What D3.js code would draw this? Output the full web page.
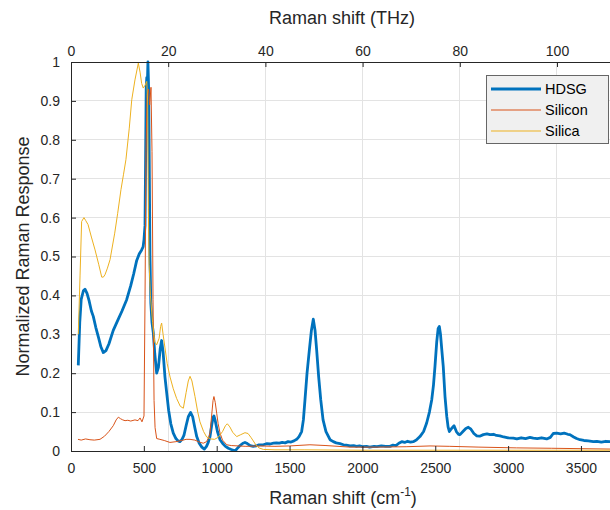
<!DOCTYPE html>
<html><head><meta charset="utf-8">
<script src="https://cdn.jsdelivr.net/npm/d3@7"></script>
<style>body{margin:0;background:#fff;overflow:hidden}svg{display:block;font-family:"Liberation Sans",Arial,sans-serif}</style>
</head><body>
<script>
// ---- data (Raman shift in cm^-1, normalized response) ----
const seriesNames = ["HDSG", "Silicon", "Silica"];
const hdsgPoints = [[50,0.22],[60,0.33],[70,0.39],[85,0.412],[96,0.416],[110,0.405],[125,0.385],[140,0.36],[153,0.346],[170,0.318],[190,0.29],[205,0.268],[222,0.253],[240,0.258],[260,0.275],[290,0.31],[320,0.335],[350,0.36],[382,0.389],[410,0.425],[430,0.455],[451,0.49],[470,0.508],[485,0.517],[495,0.525],[501,0.543],[508,0.58],[512,0.75],[516,0.93],[520,0.96],[524,0.94],[528,1.0],[533,0.93],[537,0.75],[542,0.5],[548,0.38],[556,0.33],[565,0.303],[575,0.25],[588,0.2],[600,0.215],[612,0.262],[622,0.284],[632,0.255],[645,0.19],[657,0.149],[670,0.105],[685,0.07],[702,0.046],[720,0.032],[735,0.026],[748,0.024],[762,0.03],[775,0.04],[790,0.065],[805,0.088],[821,0.099],[835,0.088],[850,0.06],[863,0.037],[880,0.02],[898,0.01],[915,0.005],[930,0.012],[942,0.022],[954,0.037],[965,0.065],[975,0.086],[981,0.09],[990,0.078],[1005,0.05],[1023,0.029],[1040,0.02],[1060,0.012],[1080,0.007],[1100,0.004],[1115,0.002],[1126,0.0],[1140,0.006],[1160,0.014],[1180,0.02],[1194,0.022],[1210,0.019],[1230,0.014],[1251,0.012],[1270,0.013],[1290,0.016],[1320,0.016],[1345,0.019],[1366,0.018],[1390,0.02],[1410,0.021],[1430,0.02],[1450,0.022],[1470,0.021],[1490,0.024],[1510,0.023],[1530,0.026],[1549,0.03],[1565,0.037],[1583,0.05],[1595,0.08],[1606,0.132],[1620,0.2],[1636,0.26],[1650,0.31],[1663,0.339],[1675,0.31],[1686,0.26],[1700,0.19],[1714,0.132],[1730,0.08],[1750,0.05],[1778,0.029],[1800,0.024],[1820,0.021],[1846,0.019],[1870,0.016],[1890,0.015],[1915,0.013],[1940,0.014],[1960,0.012],[1980,0.013],[2000,0.011],[2029,0.012],[2050,0.01],[2080,0.012],[2100,0.011],[2130,0.013],[2160,0.012],[2189,0.012],[2210,0.015],[2230,0.014],[2250,0.02],[2270,0.024],[2290,0.022],[2310,0.025],[2330,0.023],[2349,0.024],[2370,0.028],[2395,0.037],[2420,0.05],[2441,0.072],[2460,0.1],[2476,0.132],[2488,0.17],[2498,0.217],[2510,0.28],[2520,0.315],[2528,0.32],[2536,0.3],[2545,0.26],[2555,0.217],[2567,0.14],[2579,0.089],[2588,0.062],[2597,0.05],[2612,0.058],[2629,0.065],[2645,0.05],[2660,0.043],[2670,0.042],[2690,0.05],[2710,0.058],[2727,0.061],[2745,0.056],[2765,0.045],[2785,0.039],[2805,0.038],[2830,0.042],[2855,0.044],[2876,0.042],[2900,0.043],[2920,0.04],[2944,0.039],[2970,0.036],[3000,0.034],[3036,0.033],[3060,0.031],[3090,0.034],[3120,0.032],[3150,0.035],[3173,0.033],[3200,0.032],[3230,0.034],[3265,0.031],[3290,0.035],[3310,0.045],[3334,0.046],[3360,0.044],[3385,0.046],[3410,0.043],[3424,0.042],[3450,0.036],[3470,0.032],[3493,0.029],[3520,0.027],[3550,0.026],[3585,0.024],[3610,0.025],[3640,0.023],[3670,0.025],[3699,0.024],[3760,0.024]];
const siliconPoints = [[48,0.03],[70,0.028],[100,0.031],[130,0.029],[160,0.028],[199,0.03],[230,0.038],[260,0.05],[290,0.065],[310,0.08],[325,0.087],[340,0.083],[355,0.08],[371,0.078],[390,0.079],[410,0.077],[439,0.08],[460,0.078],[474,0.085],[487,0.075],[501,0.09],[508,0.39],[515,0.77],[522,0.915],[532,0.93],[540,0.89],[549,0.935],[556,0.77],[563,0.39],[570,0.13],[577,0.06],[588,0.032],[610,0.03],[640,0.027],[679,0.022],[720,0.024],[760,0.027],[790,0.03],[817,0.03],[850,0.028],[880,0.023],[908,0.02],[930,0.024],[945,0.035],[954,0.046],[965,0.09],[975,0.13],[981,0.14],[990,0.125],[1000,0.097],[1010,0.07],[1023,0.046],[1040,0.028],[1069,0.016],[1100,0.014],[1150,0.013],[1200,0.012],[1300,0.013],[1400,0.012],[1500,0.013],[1640,0.016],[1750,0.014],[1915,0.01],[2100,0.01],[2300,0.011],[2464,0.013],[2600,0.012],[2800,0.01],[3059,0.008],[3300,0.007],[3500,0.006],[3699,0.005],[3760,0.005]];
const silicaPoints = [[50,0.3],[62,0.45],[73,0.59],[89,0.6],[100,0.593],[117,0.582],[140,0.55],[165,0.517],[190,0.48],[211,0.447],[222,0.447],[233,0.453],[250,0.47],[268,0.492],[300,0.56],[320,0.61],[343,0.672],[360,0.71],[377,0.749],[400,0.83],[417,0.903],[439,0.954],[462,0.997],[474,0.974],[485,0.945],[496,0.933],[508,0.94],[520,0.95],[526,0.9],[531,0.62],[536,0.48],[545,0.4],[560,0.33],[575,0.28],[588,0.273],[605,0.29],[615,0.32],[622,0.329],[632,0.3],[645,0.265],[660,0.225],[680,0.19],[702,0.16],[725,0.135],[750,0.115],[771,0.11],[790,0.15],[805,0.18],[817,0.192],[830,0.18],[851,0.14],[870,0.1],[885,0.075],[910,0.05],[931,0.036],[960,0.031],[985,0.03],[1010,0.035],[1040,0.05],[1060,0.065],[1073,0.07],[1090,0.062],[1110,0.048],[1137,0.037],[1165,0.042],[1194,0.047],[1215,0.045],[1235,0.035],[1251,0.026],[1270,0.015],[1290,0.008],[1320,0.004],[1400,0.003],[1600,0.003],[2000,0.002],[2500,0.002],[3000,0.002],[3500,0.002],[3760,0.002]];
const seriesColors = ["#0072BD", "#D95319", "#EDB120"];
const seriesWidths = [2.8, 1, 1];
const bottomTicks = [0, 500, 1000, 1500, 2000, 2500, 3000, 3500];
const topTicksTHz = [0, 20, 40, 60, 80, 100];
const yTicks = [0, 0.1, 0.2, 0.3, 0.4, 0.5, 0.6, 0.7, 0.8, 0.9, 1];
const cmPerTHz = 33.356;

// ---- layout ----
const W = 610, H = 510;
const mLeft = 71, mTop = 62, mBottom = 451;
const xMax = 3760;
const pxPerCm = 0.1457;
const mRight = mLeft + xMax * pxPerCm;

const svg = d3.select("body").append("svg").attr("width", W).attr("height", H);
const x = d3.scaleLinear().domain([0, xMax]).range([mLeft, mRight]);
const y = d3.scaleLinear().domain([0, 1]).range([mBottom, mTop]);
const xTop = d3.scaleLinear().domain([0, xMax / cmPerTHz]).range([mLeft, mRight]);

const gridColor = "#e3e3e3";
svg.append("g").selectAll("line").data(yTicks.filter(d => d > 0 && d < 1)).join("line")
  .attr("x1", mLeft).attr("x2", mRight).attr("y1", d => y(d)).attr("y2", d => y(d))
  .attr("stroke", gridColor).attr("stroke-width", 1).attr("shape-rendering", "crispEdges");
svg.append("g").selectAll("line").data(topTicksTHz.filter(d => d > 0)).join("line")
  .attr("x1", d => xTop(d)).attr("x2", d => xTop(d)).attr("y1", mTop).attr("y2", mBottom)
  .attr("stroke", gridColor).attr("stroke-width", 1).attr("shape-rendering", "crispEdges");

svg.append("clipPath").attr("id", "clip").append("rect")
  .attr("x", mLeft).attr("y", mTop - 2).attr("width", mRight - mLeft).attr("height", mBottom - mTop + 2);

const line = d3.line().x(d => x(d[0])).y(d => y(d[1]));
const allSeries = [hdsgPoints, siliconPoints, silicaPoints];
const plot = svg.append("g").attr("clip-path", "url(#clip)");
allSeries.forEach((pts, i) => {
  plot.append("path").datum(pts).attr("d", line).attr("fill", "none")
    .attr("stroke", seriesColors[i]).attr("stroke-width", seriesWidths[i])
    .attr("stroke-linejoin", "round");
});

const axisColor = "#262626";
const fontSize = 14;
function styleAxis(g) {
  g.select(".domain").attr("stroke", axisColor).attr("stroke-width", 1);
  g.selectAll(".tick line").attr("stroke", axisColor);
  g.selectAll(".tick text").attr("fill", axisColor).attr("font-size", fontSize)
    .attr("font-family", "'Liberation Sans', Arial, sans-serif");
}
const xAxisB = d3.axisBottom(x).tickValues(bottomTicks).tickSizeInner(-5).tickSizeOuter(0).tickPadding(12).tickFormat(d3.format("d"));
svg.append("g").attr("transform", `translate(0,${mBottom})`).call(xAxisB).call(styleAxis);
const xAxisT = d3.axisTop(xTop).tickValues(topTicksTHz).tickSizeInner(-5).tickSizeOuter(0).tickPadding(6).tickFormat(d3.format("d"));
svg.append("g").attr("transform", `translate(0,${mTop})`).call(xAxisT).call(styleAxis);
const yAxis = d3.axisLeft(y).tickValues(yTicks).tickSizeInner(-5).tickSizeOuter(0).tickPadding(11).tickFormat(d => d === 0 ? "0" : d === 1 ? "1" : d3.format(".1f")(d));
svg.append("g").attr("transform", `translate(${mLeft},0)`).call(yAxis).call(styleAxis);

const titleSize = 18;
svg.append("text").attr("x", 342).attr("y", 24).attr("text-anchor", "middle")
  .attr("font-size", titleSize).attr("fill", axisColor).text("Raman shift (THz)");
const xl = svg.append("text").attr("x", 343).attr("y", 504).attr("text-anchor", "middle")
  .attr("font-size", titleSize).attr("fill", axisColor);
xl.append("tspan").text("Raman shift (cm");
xl.append("tspan").attr("font-size", 12).attr("dy", -8).text("-1");
xl.append("tspan").attr("dy", 8).text(")");
svg.append("text").attr("transform", `translate(29,${(mTop + mBottom) / 2}) rotate(-90)`)
  .attr("text-anchor", "middle").attr("font-size", titleSize).attr("fill", axisColor)
  .text("Normalized Raman Response");

const lg = svg.append("g").attr("transform", "translate(486,75)");
lg.append("rect").attr("x", 0.5).attr("y", 0.5).attr("width", 122).attr("height", 68)
  .attr("fill", "#f0f0f0").attr("stroke", "#666").attr("stroke-width", 1);
seriesNames.forEach((name, i) => {
  const yy = 14 + i * 21;
  lg.append("line").attr("x1", 5).attr("x2", 55).attr("y1", yy).attr("y2", yy)
    .attr("stroke", seriesColors[i]).attr("stroke-width", seriesWidths[i]);
  lg.append("text").attr("x", 59).attr("y", yy + 5).attr("font-size", 14.5)
    .attr("fill", "#000").text(name);
});
</script>
</body></html>
